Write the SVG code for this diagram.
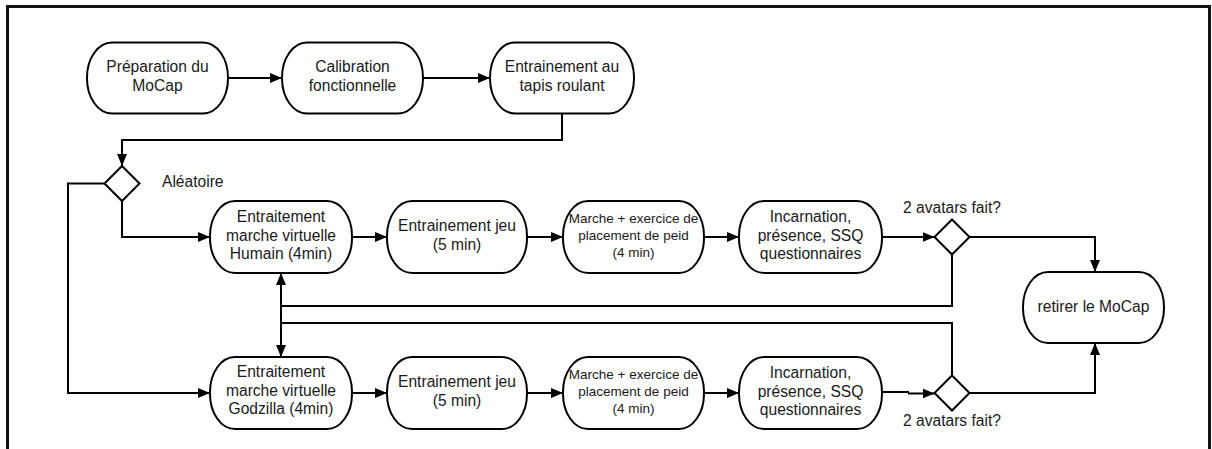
<svg xmlns="http://www.w3.org/2000/svg" width="1212" height="449" viewBox="0 0 1212 449">
  <style>
    .node { fill: #ffffff; stroke: #000000; stroke-width: 2; }
    .dec { fill: #ffffff; stroke: #000000; stroke-width: 2; }
    .conn { fill: none; stroke: #000000; stroke-width: 2; marker-end: url(#arrow); }
    .t { font-family: "Liberation Sans", Arial, sans-serif; font-size: 15.6px; fill: #1a1a1a; text-anchor: middle; }
    .ts { font-family: "Liberation Sans", Arial, sans-serif; font-size: 13.5px; fill: #1a1a1a; text-anchor: middle; }
    .lbl { font-family: "Liberation Sans", Arial, sans-serif; font-size: 15.6px; fill: #1a1a1a; }
  </style>
  <defs>
    <marker id="arrow" markerUnits="userSpaceOnUse" markerWidth="13" markerHeight="11" refX="12" refY="5" orient="auto">
      <path d="M0,0 L12,5 L0,10 z" fill="#000000"/>
    </marker>
  </defs>
  <rect x="0" y="0" width="1212" height="449" fill="#ffffff"/>
  <rect id="frame" x="7.5" y="6.5" width="1202" height="470" fill="none" stroke="#111111" stroke-width="3"/>

  <g id="connectors">
    <path class="conn" d="M228,78 H282"/>
    <path class="conn" d="M423,78 H490"/>
    <path class="conn" d="M562,113 V140 H122 V166"/>
    <path class="conn" d="M122,201 V237 H210"/>
    <path class="conn" d="M104.5,183.5 H68 V393 H210"/>
    <path class="conn" d="M352,237 H387"/>
    <path class="conn" d="M527,237 H563"/>
    <path class="conn" d="M704,237 H739"/>
    <path class="conn" d="M882,237 H934.5"/>
    <path class="conn" d="M969.5,237 H1095 V272"/>
    <path class="conn" d="M952,254.5 V306 H281 V357"/>
    <path class="conn" d="M952,375 V323 H281 V273"/>
    <path class="conn" d="M352,393 H387"/>
    <path class="conn" d="M527,393 H563"/>
    <path class="conn" d="M704,393 H739"/>
    <path class="conn" d="M882,392 H909 M908,393.5 H934.5"/>
    <path class="conn" d="M969.5,393 H1095 V343"/>
  </g>

  <g id="n-preparation">
    <rect class="node" x="87" y="42.5" width="141" height="71" rx="25" ry="35"/>
    <text class="t" x="157.5" y="72">Préparation du</text>
    <text class="t" x="157.5" y="90.5">MoCap</text>
  </g>
  <g id="n-calibration">
    <rect class="node" x="282" y="42.5" width="141" height="71" rx="25" ry="35"/>
    <text class="t" x="352.5" y="72">Calibration</text>
    <text class="t" x="352.5" y="90.5">fonctionnelle</text>
  </g>
  <g id="n-tapis">
    <rect class="node" x="490" y="42.5" width="144" height="71" rx="25" ry="35"/>
    <text class="t" x="562" y="72">Entrainement au</text>
    <text class="t" x="562" y="90.5">tapis roulant</text>
  </g>

  <g id="d-aleatoire">
    <path class="dec" d="M122,166 L139.5,183.5 L122,201 L104.5,183.5 z"/>
    <text class="lbl" x="162" y="187">Aléatoire</text>
  </g>

  <g id="n-humain">
    <rect class="node" x="210" y="201" width="142" height="72" rx="25" ry="35"/>
    <text class="t" x="281" y="222">Entraitement</text>
    <text class="t" x="281" y="240.5">marche virtuelle</text>
    <text class="t" x="281" y="259">Humain (4min)</text>
  </g>
  <g id="n-jeu1">
    <rect class="node" x="387" y="201" width="140" height="72" rx="25" ry="35"/>
    <text class="t" x="457" y="231">Entrainement jeu</text>
    <text class="t" x="457" y="249.5">(5 min)</text>
  </g>
  <g id="n-marche1">
    <rect class="node" x="563" y="201" width="141" height="72" rx="25" ry="35"/>
    <text class="ts" x="633.5" y="223">Marche + exercice de</text>
    <text class="ts" x="633.5" y="240">placement de peid</text>
    <text class="ts" x="633.5" y="257">(4 min)</text>
  </g>
  <g id="n-incarnation1">
    <rect class="node" x="739" y="201" width="143" height="72" rx="25" ry="35"/>
    <text class="t" x="810.5" y="222">Incarnation,</text>
    <text class="t" x="810.5" y="240.5">présence, SSQ</text>
    <text class="t" x="810.5" y="259">questionnaires</text>
  </g>
  <g id="d-avatars1">
    <path class="dec" d="M952,219.5 L969.5,237 L952,254.5 L934.5,237 z"/>
    <text class="t" x="952" y="213">2 avatars fait?</text>
  </g>

  <g id="n-retirer">
    <rect class="node" x="1023" y="272" width="141" height="71" rx="25" ry="35"/>
    <text class="t" x="1093.5" y="312">retirer le MoCap</text>
  </g>

  <g id="n-godzilla">
    <rect class="node" x="210" y="357" width="142" height="72" rx="25" ry="35"/>
    <text class="t" x="281" y="377">Entraitement</text>
    <text class="t" x="281" y="395.5">marche virtuelle</text>
    <text class="t" x="281" y="414">Godzilla (4min)</text>
  </g>
  <g id="n-jeu2">
    <rect class="node" x="387" y="357" width="140" height="72" rx="25" ry="35"/>
    <text class="t" x="457" y="387">Entrainement jeu</text>
    <text class="t" x="457" y="405.5">(5 min)</text>
  </g>
  <g id="n-marche2">
    <rect class="node" x="563" y="357" width="141" height="72" rx="25" ry="35"/>
    <text class="ts" x="633.5" y="379">Marche + exercice de</text>
    <text class="ts" x="633.5" y="396">placement de peid</text>
    <text class="ts" x="633.5" y="413">(4 min)</text>
  </g>
  <g id="n-incarnation2">
    <rect class="node" x="739" y="357" width="143" height="72" rx="25" ry="35"/>
    <text class="t" x="810.5" y="378">Incarnation,</text>
    <text class="t" x="810.5" y="396.5">présence, SSQ</text>
    <text class="t" x="810.5" y="415">questionnaires</text>
  </g>
  <g id="d-avatars2">
    <path class="dec" d="M952,375.5 L969.5,393 L952,410.5 L934.5,393 z"/>
    <text class="t" x="952" y="426">2 avatars fait?</text>
  </g>
</svg>
